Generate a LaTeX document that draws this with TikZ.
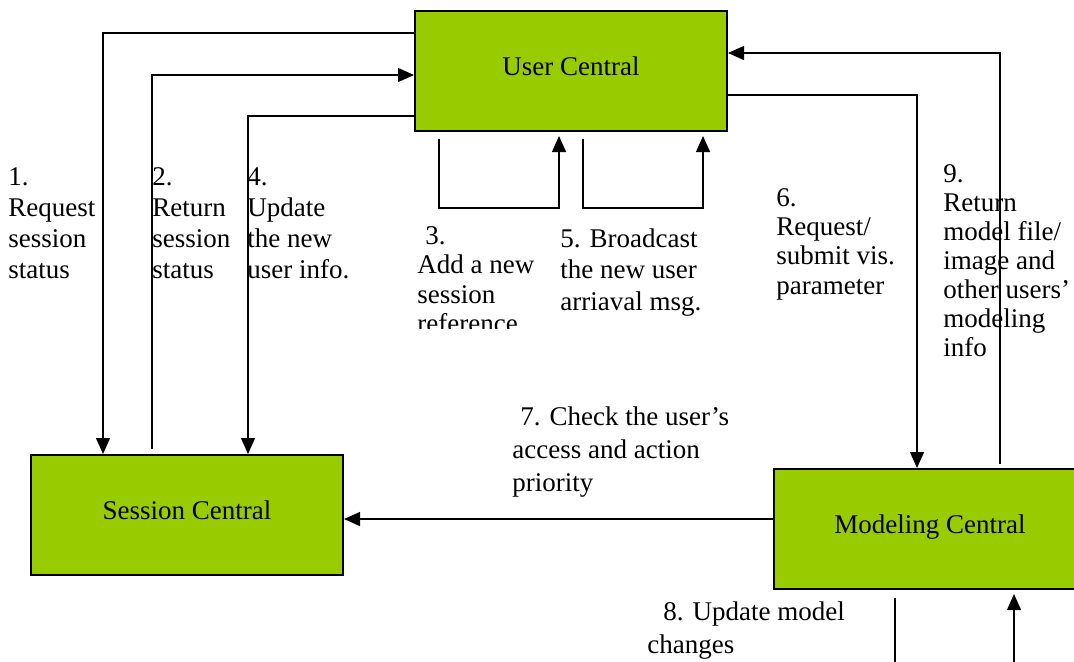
\documentclass[tikz,border=0pt]{standalone}
\usepackage{fontspec}
\setmainfont{Liberation Serif}
\usetikzlibrary{arrows.meta}
\definecolor{boxgreen}{RGB}{153,204,0}
\tikzset{
  central/.style={draw,fill=boxgreen,rectangle,line width=1pt,minimum width=156pt,minimum height=60pt,text height=9pt,text depth=5pt,font=\fontsize{13.5pt}{16pt}\selectfont},
  flow/.style={line width=0.65pt,-{Triangle[length=8pt,width=7pt]}},
  plain/.style={line width=0.65pt},
  lbl/.style={align=left,anchor=north west,inner sep=0pt,font=\fontsize{13.5pt}{#1}\selectfont},
  lbl/.default={15.5pt}
}
\begin{document}
\begin{tikzpicture}[x=0.5pt,y=-0.5pt]
    \useasboundingbox (0,0) rectangle (1074,661);
    %% the three centrals
    \node[central] (UC) at (571,71) {User Central};
    \node[central] (SC) at (187,515) {Session Central};
    \node[central] (MC) at (930,529) {Modeling Central};
    %% loose ends below modeling central
    \coordinate (out8) at (895,670);
    \coordinate (in8) at (1014,670);
    %% user central <-> session central
    \draw[flow] (UC.west |- 0,33) -| (SC.north -| 103,0);
    \draw[flow,shorten <=2.5pt] (SC.north -| 152,0) |- (UC.west |- 0,75);
    \draw[flow] (UC.west |- 0,116) -| (SC.north -| 248,0);
    %% loops under user central
    \draw[flow,shorten <=3.5pt,shorten >=2pt] (UC.south -| 439,0) -- ++(0,76) -| (UC.south -| 559,0);
    \draw[flow,shorten <=3.5pt,shorten >=2pt] (UC.south -| 583,0) -- ++(0,76) -| (UC.south -| 703,0);
    %% user central <-> modeling central
    \draw[flow] (UC.east |- 0,95) -| (MC.north -| 917,0);
    \draw[flow,shorten <=2pt] (MC.north -| 1000,0) |- (UC.east |- 0,53);
    %% modeling central -> session central
    \draw[flow] (MC.west |- 0,519) -- (SC.east |- 0,519);
    %% model changes
    \draw[plain,shorten <=4pt] (MC.south -| out8) -- (out8);
    \draw[flow,shorten >=2pt] (in8) -- (MC.south -| in8);
    %% labels
    \node[lbl] (l1) at (8,167) {1.\\Request\\session\\status};
    \node[lbl] (l2) at (152,167) {2.\\Return\\session\\status};
    \node[lbl] (l4) at (247,167) {4.\\Update\\the new\\user info.};
    \begin{scope}
      \clip (400,200) rectangle (560,328);
      \node[lbl=14.75pt] (l3) at (417,226) {\hspace*{4pt}3.\\Add a new\\session\\reference};
    \end{scope}
    \node[lbl=15.75pt] (l5) at (560,228) {5. Broadcast\\the new user\\arriaval msg.};
    \node[lbl=14.65pt] (l6) at (776,188) {6.\\Request/\\submit vis.\\parameter};
    \node[lbl=14.5pt] (l9) at (943,164) {9.\\Return\\model file/\\image and\\other users'\\modeling\\info};
    \node[lbl=16.5pt] (l7) at (512,406) {\hspace*{4pt}7. Check the user's\\access and action\\priority};
    \node[lbl=16.5pt] (l8) at (647,601) {\hspace*{8pt}8. Update model\\changes};
\end{tikzpicture}
\end{document}
